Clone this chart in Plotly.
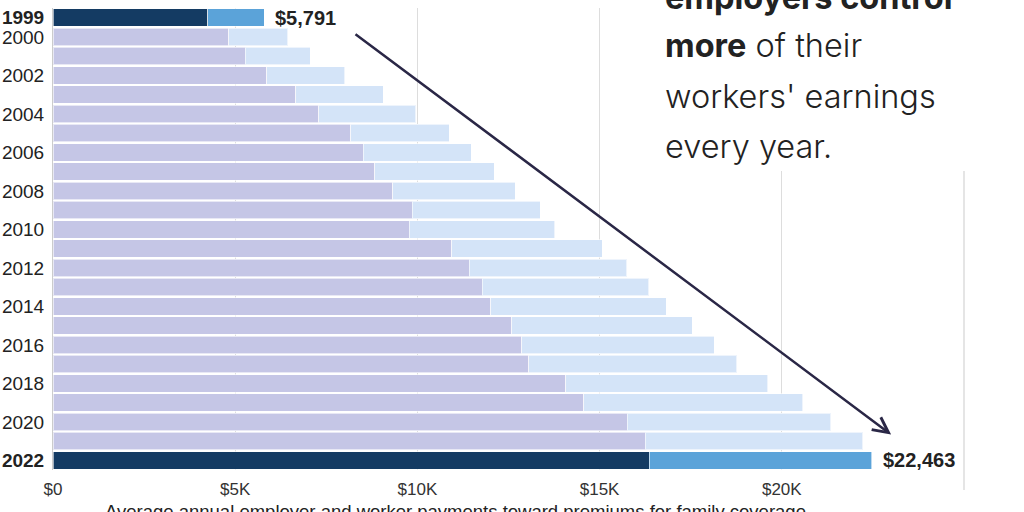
import plotly.graph_objects as go

# ---------------- data ----------------
years = list(range(1999, 2023))
total_premium = [5791, 6438, 7061, 8003, 9068, 9950, 10880, 11480, 12106, 12680,
                 13375, 13770, 15073, 15745, 16351, 16834, 17545, 18142, 18764,
                 19616, 20576, 21342, 22221, 22463]
worker_contribution = [1543, 1619, 1787, 2137, 2412, 2661, 2713, 2973, 3281, 3354,
                       3515, 3997, 4129, 4316, 4565, 4823, 4955, 5277, 5714, 5547,
                       6015, 5588, 5969, 6106]
employer_contribution = [t - w for t, w in zip(total_premium, worker_contribution)]
highlight_years = [1999, 2022]

year_tick_vals = [1999] + list(range(2000, 2023, 2))
year_tick_text = [f"<b>{y}</b>" if y in highlight_years else str(y) for y in year_tick_vals]
x_tick_vals = [0, 5000, 10000, 15000, 20000]
x_tick_text = ["$0", "$5K", "$10K", "$15K", "$20K"]
x_title = "Average annual employer and worker payments toward premiums for family coverage"
text_lines = ["<b>employers control</b>", "<b>more</b> of their", "workers' earnings", "every year."]

# ---------------- style ----------------
W, H = 1024, 512
ML, MR, MT, MB = 53, 60, 8, 42
PH = H - MT - MB
PW = W - ML - MR

DARK = "#143b63"
MID = "#5ba3d9"
LAV = "#c5c6e6"
LIGHT = "#d4e4f8"
TXT = "#222222"
FONT = "Liberation Sans"


def py(px):
    return (H - MB - px) / PH


def pxx(px):
    return (px - ML) / PW


emp_colors = [DARK if y in highlight_years else LAV for y in years]
wrk_colors = [MID if y in highlight_years else LIGHT for y in years]

fig = go.Figure()
fig.add_trace(go.Bar(
    y=years, x=employer_contribution, orientation="h",
    marker=dict(color=emp_colors, line=dict(color="rgba(255,255,255,0.6)", width=1)),
    hoverinfo="skip", showlegend=False,
))
fig.add_trace(go.Bar(
    y=years, x=worker_contribution, orientation="h",
    marker=dict(color=wrk_colors, line=dict(color="rgba(255,255,255,0.6)", width=1)),
    hoverinfo="skip", showlegend=False,
))

# value labels for highlighted years
for y, t in zip(years, total_premium):
    if y in highlight_years:
        fig.add_annotation(x=t, y=y, text=f"<b>${t:,}</b>", showarrow=False,
                           xanchor="left", xshift=9, yanchor="middle",
                           font=dict(family=FONT, size=20, color=TXT))

# arrow
fig.add_annotation(x=23000, y=2020.66, ax=8260, ay=1999.8, axref="x", ayref="y",
                   xref="x", yref="y", showarrow=True, arrowhead=5, arrowsize=1.2,
                   arrowwidth=2.5, arrowcolor="#2a2746", text="", standoff=0)

shapes = []
# white box behind text
shapes.append(dict(type="rect", xref="paper", yref="paper", x0=pxx(601), x1=pxx(967),
                   y0=py(171), y1=py(-5), fillcolor="white", line=dict(width=0), layer="above"))
# right rule
shapes.append(dict(type="line", xref="paper", yref="paper", x0=1, x1=1,
                   y0=py(490), y1=py(171), line=dict(color="#dddddd", width=1.5)))
fig.update_layout(shapes=shapes)

# text block
baselines = [8, 57, 107, 157]
for line, b in zip(text_lines, baselines):
    fig.add_annotation(xref="paper", yref="paper", x=pxx(663), y=py(b - 11),
                       text=line, showarrow=False, xanchor="left", yanchor="middle",
                       font=dict(family="Inter", size=32.5, color=TXT, weight=300))

# x title
fig.add_annotation(xref="paper", yref="paper", x=pxx(455), y=py(512),
                   text=x_title, showarrow=False, xanchor="center", yanchor="middle",
                   font=dict(family=FONT, size=18.5, color=TXT))

fig.update_layout(
    width=W, height=H,
    margin=dict(l=ML, r=MR, t=MT, b=MB, pad=0, autoexpand=False),
    barmode="stack", bargap=0.1,
    plot_bgcolor="white", paper_bgcolor="white",
    xaxis=dict(range=[0, 25000], tickvals=x_tick_vals, ticktext=x_tick_text,
               showgrid=True, gridcolor="#dddddd", gridwidth=1, zeroline=False,
               showline=False, ticks="", ticklabelstandoff=7, automargin=False,
               tickfont=dict(family=FONT, size=17, color="#333333"), fixedrange=True),
    yaxis=dict(range=[2022.5, 1998.5], tickvals=year_tick_vals, ticktext=year_tick_text,
               showgrid=False, zeroline=False, showline=True, linecolor="#cccccc",
               linewidth=1, ticks="", ticklabelstandoff=4, automargin=False,
               tickfont=dict(family=FONT, size=19, color=TXT), fixedrange=True),
)

fig.write_html("out.html")
